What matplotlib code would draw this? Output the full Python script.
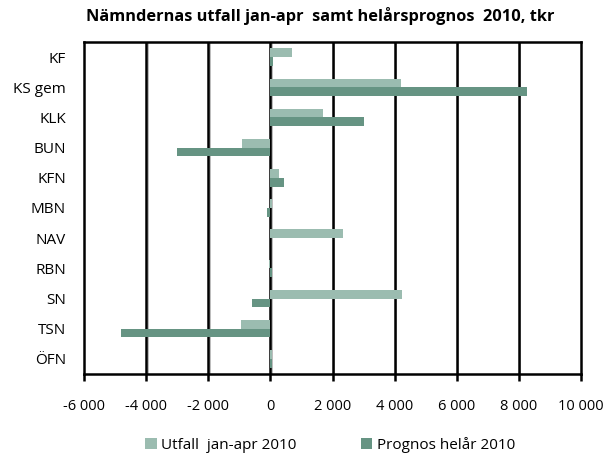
import matplotlib
matplotlib.use("Agg")
import matplotlib.pyplot as plt
import matplotlib.transforms as mtransforms
import numpy as np

categories = ["KF", "KS gem", "KLK", "BUN", "KFN", "MBN", "NAV", "RBN", "SN", "TSN", "ÖFN"]
utfall = [700, 4200, 1700, -900, 290, 50, 2350, -40, 4250, -930, 60]
prognos = [80, 8250, 3000, -3000, 450, -100, 0, 60, -580, -4800, 60]
xticks = [-6000, -4000, -2000, 0, 2000, 4000, 6000, 8000, 10000]
xticklabels = ["-6 000", "-4 000", "-2 000", "0", "2 000", "4 000", "6 000", "8 000", "10 000"]
series_names = ["Utfall  jan-apr 2010", "Prognos helår 2010"]
title = "Nämndernas utfall jan-apr  samt helårsprognos  2010, tkr"

light = "#9bbcb0"
dark = "#669483"

plt.rcParams['font.family'] = ['Open Sans', 'DejaVu Sans']

fig = plt.figure(figsize=(6.08, 4.54), dpi=100)
ax = fig.add_axes([84/608, 1-374/454, (581-84)/608, (374-42)/454])

y = np.arange(len(categories))
h = 0.29
ax.barh(y - h/2, utfall, height=h, color=light, zorder=3, label=series_names[0])
ax.barh(y + h/2, prognos, height=h, color=dark, zorder=3, label=series_names[1])

ax.set_xlim(xticks[0], xticks[-1])
ax.set_ylim(len(categories) - 0.5, -0.5)
ax.set_yticks(y)
ax.set_yticklabels(categories, fontsize=11)
ax.tick_params(axis='y', length=0, pad=13)
ax.set_xticks(xticks)
ax.set_xticklabels(xticklabels, fontsize=10.5)
ax.tick_params(axis='x', length=5, width=1.8, pad=13, color='black')

# gridlines with slight gray shadow
base = ax.get_xaxis_transform()
shadow = mtransforms.offset_copy(base, fig=fig, x=1.6, y=0, units='dots')
for t in xticks[1:-1]:
    ax.plot([t, t], [0, 1], color='#b0b0b0', lw=1.2, zorder=1, transform=shadow)
    ax.plot([t, t], [0, 1], color='black', lw=1.8, zorder=2, transform=base)

for s in ax.spines.values():
    s.set_linewidth(1.8)
    s.set_color('black')
    s.set_zorder(4)

fig.text(320/608, 1-16/454, title, ha='center', va='center', fontsize=11.8, fontweight='bold')

leg = fig.legend(loc='center', bbox_to_anchor=(330/608, 1-445/454), ncol=2, frameon=False,
                 fontsize=11, handlelength=0.75, handleheight=0.75, handletextpad=0.3,
                 columnspacing=4.2)

fig.savefig("out.png", dpi=100)
